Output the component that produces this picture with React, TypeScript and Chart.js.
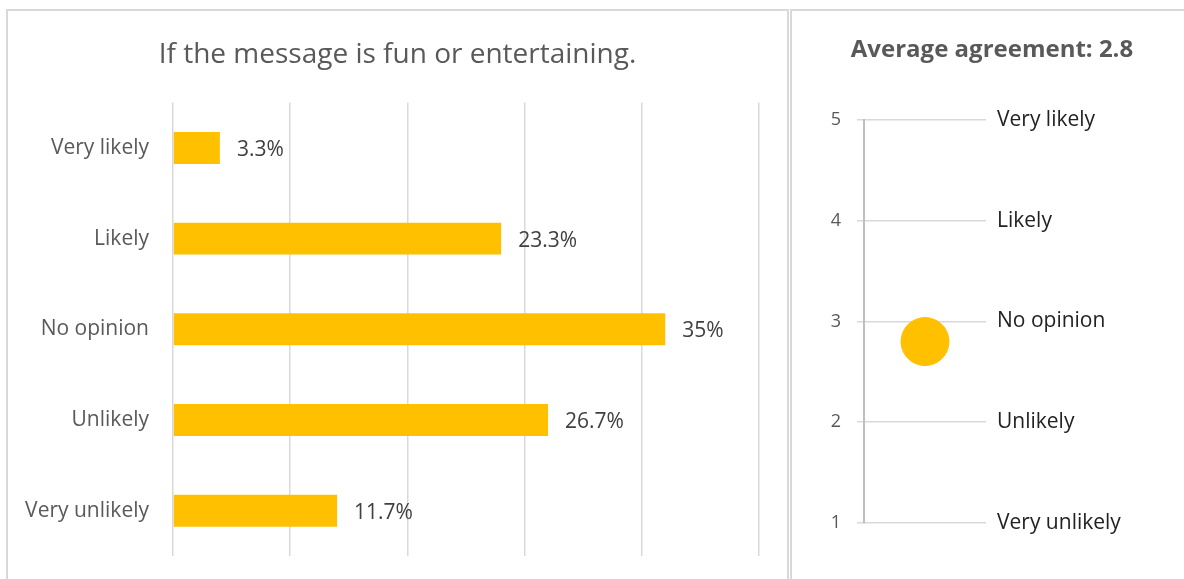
import React, { useEffect, useRef } from "react";
import { Chart, registerables } from "chart.js";

Chart.register(...registerables);

const categories = ["Very likely", "Likely", "No opinion", "Unlikely", "Very unlikely"];
const counts = [2, 14, 21, 16, 7];
const percentLabels = ["3.3%", "23.3%", "35%", "26.7%", "11.7%"];
const leftTitle = "If the message is fun or entertaining.";

const averageValue = 2.8;
const rightTitle = "Average agreement: 2.8";
const scaleLabels = ["Very unlikely", "Unlikely", "No opinion", "Likely", "Very likely"];

const FONT = "'Open Sans', sans-serif";
const BAR = "#FFC000";

export default function App() {
  const leftRef = useRef<HTMLCanvasElement>(null);
  const rightRef = useRef<HTMLCanvasElement>(null);

  useEffect(() => {
    const barLabels = {
      id: "barLabels",
      afterDatasetsDraw(chart: any) {
        const ctx = chart.ctx;
        const meta = chart.getDatasetMeta(0);
        ctx.save();
        ctx.font = `21px ${FONT}`;
        ctx.fillStyle = "#404040";
        ctx.textAlign = "left";
        ctx.textBaseline = "middle";
        meta.data.forEach((el: any, i: number) => {
          ctx.fillText(percentLabels[i], el.x + 17, el.y + 2);
        });
        ctx.restore();
      },
    };

    const left = new Chart(leftRef.current!, {
      type: "bar",
      data: {
        labels: categories,
        datasets: [
          {
            data: counts,
            backgroundColor: BAR,
            categoryPercentage: 0.705,
            barPercentage: 0.5,
          },
        ],
      },
      options: {
        indexAxis: "y",
        responsive: false,
        animation: false,
        layout: { padding: { left: 0, right: 0, top: 0, bottom: 23 } },
        plugins: {
          legend: { display: false },
          tooltip: { enabled: false },
          title: {
            display: true,
            text: leftTitle,
            color: "#595959",
            font: { family: FONT, size: 28, weight: "normal" },
            padding: { top: 27, bottom: 31 },
          },
        },
        scales: {
          x: {
            min: 0,
            max: 25,
            ticks: { display: false, stepSize: 5 },
            grid: { color: "#d9d9d9", lineWidth: 1.5, drawTicks: false },
            border: { display: false },
            afterFit: (s: any) => {
              s.height = 0;
              s.paddingLeft = 0;
              s.paddingRight = 0;
            },
          },
          y: {
            grid: { display: false },
            border: { display: false },
            ticks: {
              color: "#595959",
              font: { family: FONT, size: 21 },
              padding: 16,
            },
            afterFit: (s: any) => {
              s.width = 165;
              s.paddingTop = 0;
              s.paddingBottom = 0;
            },
          },
          spacer: {
            position: "right",
            display: true,
            ticks: { display: false },
            grid: { display: false },
            border: { display: false },
            afterFit: (s: any) => {
              s.width = 28;
              s.paddingTop = 0;
              s.paddingBottom = 0;
            },
          },
        },
      },
      plugins: [barLabels],
    });

    const right = new Chart(rightRef.current!, {
      type: "scatter",
      data: {
        datasets: [
          {
            data: [{ x: 1, y: averageValue }],
            backgroundColor: BAR,
            borderColor: BAR,
            pointRadius: 24,
            pointHoverRadius: 24,
          },
        ],
      },
      options: {
        responsive: false,
        animation: false,
        layout: { padding: { left: 0, right: 0, top: 0, bottom: 56 } },
        plugins: {
          legend: { display: false },
          tooltip: { enabled: false },
          title: {
            display: true,
            text: rightTitle,
            color: "#595959",
            font: { family: FONT, size: 24, weight: "bold" },
            padding: { top: 25, bottom: 55 },
          },
        },
        scales: {
          x: { type: "linear", min: 0, max: 2, display: false },
          y: {
            position: "left",
            min: 1,
            max: 5,
            ticks: {
              stepSize: 1,
              color: "#595959",
              font: { family: FONT, size: 18 },
              padding: 16,
            },
            grid: { color: "#d9d9d9", lineWidth: 1.5, tickLength: 7 },
            border: { color: "#bfbfbf", width: 2 },
            afterFit: (s: any) => {
              s.width = 72;
              s.paddingTop = 0;
              s.paddingBottom = 0;
            },
          },
          y2: {
            position: "right",
            min: 1,
            max: 5,
            ticks: {
              stepSize: 1,
              color: "#222222",
              font: { family: FONT, size: 21 },
              padding: 3,
              callback: (v: any) => scaleLabels[Number(v) - 1] ?? "",
            },
            grid: { display: false },
            border: { display: false },
            afterFit: (s: any) => {
              s.width = 206;
              s.paddingTop = 0;
              s.paddingBottom = 0;
            },
          },
        },
      },
    });

    return () => {
      left.destroy();
      right.destroy();
    };
  }, []);

  return (
    <div
      style={{
        position: "fixed",
        left: 0,
        top: 0,
        width: 1184,
        height: 579,
        overflow: "hidden",
        background: "#ffffff",
      }}
    >
      <div
        style={{
          position: "absolute",
          left: 6,
          top: 9,
          width: 783,
          height: 700,
          boxSizing: "border-box",
          border: "2px solid #d9d9d9",
        }}
      />
      <div
        style={{
          position: "absolute",
          left: 790,
          top: 9,
          width: 500,
          height: 700,
          boxSizing: "border-box",
          border: "2px solid #d9d9d9",
        }}
      />
      <canvas
        ref={leftRef}
        width={779}
        height={568}
        style={{ position: "absolute", left: 8, top: 11 }}
      />
      <canvas
        ref={rightRef}
        width={400}
        height={568}
        style={{ position: "absolute", left: 792, top: 11 }}
      />
    </div>
  );
}
